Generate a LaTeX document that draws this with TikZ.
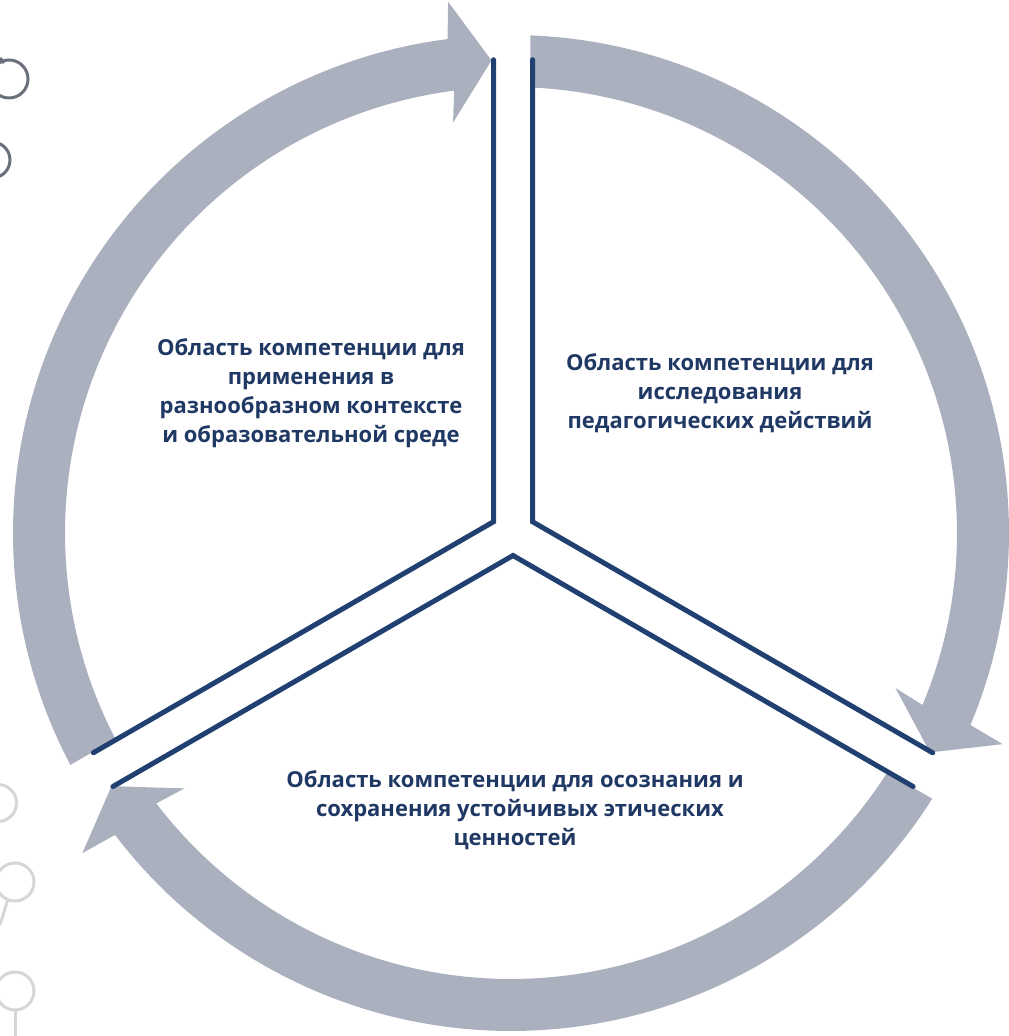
\documentclass[tikz,border=0pt]{standalone}
\usepackage{fontspec}
\setmainfont{Open Sans}
\usetikzlibrary{calc}
\definecolor{bandgray}{RGB}{171,176,190}
\definecolor{navyline}{RGB}{31,64,112}
\definecolor{navytext}{RGB}{31,56,100}
\definecolor{decodark}{RGB}{105,112,124}
\definecolor{decolight}{RGB}{214,214,214}
\tikzset{
  yline/.style={draw=navyline, line width=5pt, line cap=round, line join=miter},
  bandfill/.style={fill=bandgray},
  deco/.style={line width=3pt},
  label/.style={text=navytext, align=center, font=\fontsize{22}{29}\selectfont\bfseries, inner sep=0pt},
}
% #1 start axis angle, #2 end axis angle
\newcommand\ringarrow[2]{%
  \pgfmathsetmacro\RAsa{#1-2.244}%
  \pgfmathsetmacro\RAsb{#1-2.506}%
  \pgfmathsetmacro\RAtp{#2+2.363}%
  \pgfmathsetmacro\RAbe{\RAtp+4.954}%
  \pgfmathsetmacro\RAho{\RAtp+4.395}%
  \pgfmathsetmacro\RAhi{\RAtp+5.676}%
  \fill[bandfill] (\RAsa:498) arc[start angle=\RAsa, end angle=\RAbe, radius=498]
    -- (\RAho:535.07)
    -- (\RAtp:473)
    -- (\RAhi:414.53)
    -- (\RAbe:446) arc[start angle=\RAbe, end angle=\RAsb, radius=446] -- cycle;}
\begin{document}
\begin{tikzpicture}[x=1pt,y=1pt]
\useasboundingbox (0,0) rectangle (1009,1036);
\clip (0,0) rectangle (1009,1036);
% decorations on the left edge
\draw[deco, draw=decodark] (9,957) circle[radius=19];
\draw[deco, draw=decodark] (0,978) -- (4,973);
\draw[deco, draw=decodark] (-8,876) circle[radius=18];
\draw[deco, draw=decolight] (-2,233) circle[radius=18.5];
\draw[deco, draw=decolight] (15,154) circle[radius=19];
\draw[deco, draw=decolight] (8,137) -- (0,111);
\draw[deco, draw=decolight] (15,45) circle[radius=19];
\draw[deco, draw=decolight] (15,26) -- (15,0);
% ring arrows and Y lines
\begin{scope}[shift={(511,503)}]
  \ringarrow{210}{90}
  \ringarrow{90}{-30}
  \ringarrow{-30}{-150}
\end{scope}
\begin{scope}[shift={(513,503)}]
  \coordinate (jl) at (150:22.52);
  \coordinate (jr) at (30:22.52);
  \coordinate (jb) at (270:22.52);
  \coordinate (lt) at ($(jl)+(90:462)$);
  \coordinate (ld) at ($(jl)+(210:462)$);
  \coordinate (rt) at ($(jr)+(90:462)$);
  \coordinate (rd) at ($(jr)+(-30:462)$);
  \coordinate (bl) at ($(jb)+(210:462)$);
  \coordinate (br) at ($(jb)+(-30:462)$);
  \draw[yline] (lt) -- (jl) -- (ld);
  \draw[yline] (rt) -- (jr) -- (rd);
  \draw[yline] (bl) -- (jb) -- (br);
\end{scope}
% labels
\node[label] (t1) at (311,643) {Область компетенции для\\применения в\\разнообразном контексте\\и образовательной среде};
\node[label] (t2) at (720,643) {Область компетенции для\\исследования\\педагогических действий};
\node[label] (t3) at (515,226) {Область компетенции для осознания и\\\hspace*{10pt}сохранения устойчивых этических\\ценностей};
\end{tikzpicture}
\end{document}
